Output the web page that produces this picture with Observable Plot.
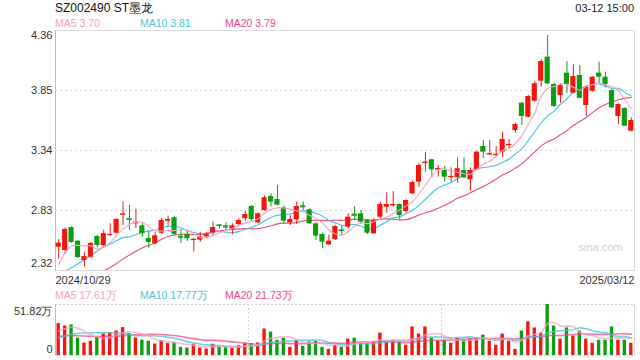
<!DOCTYPE html>
<html><head><meta charset="utf-8">
<script src="https://cdn.jsdelivr.net/npm/d3@7"></script>
<script src="https://cdn.jsdelivr.net/npm/@observablehq/plot@0.6"></script>
<style>
body{margin:0;background:#fff;font-family:"Liberation Sans",Arial,sans-serif;}
#c{position:relative;width:640px;height:360px;overflow:hidden;background:#fff;}
.t{position:absolute;white-space:nowrap;}
#c svg{position:absolute;left:0;}
</style></head><body><div id="c"></div>
<script>
// ---- data ----
const title = "SZ002490 ST墨龙";
const stamp = "03-12 15:00";
const dateLabels = ["2024/10/29", "2025/03/12"];
const maNames = ["MA5", "MA10", "MA20"];
const priceMaLabels = ["3.70", "3.81", "3.79"];
const volMaLabels = ["17.61万", "17.77万", "21.73万"];
const priceTicks = [4.36, 3.85, 3.34, 2.83, 2.32];
const volTicks = [51.82, 0];
const opens = [2.518,2.490,2.685,2.569,2.405,2.433,2.609,2.531,2.621,2.637,2.794,2.760,2.717,2.700,2.592,2.547,2.637,2.739,2.768,2.612,2.626,2.575,2.578,2.606,2.640,2.708,2.700,2.662,2.711,2.760,2.864,2.725,2.830,2.949,2.924,2.853,2.725,2.751,2.870,2.836,2.717,2.626,2.538,2.583,2.665,2.688,2.800,2.802,2.745,2.632,2.773,2.858,2.870,2.881,2.821,2.972,3.071,3.232,3.261,3.176,3.170,3.113,3.108,3.170,3.091,3.176,3.374,3.306,3.300,3.326,3.382,3.510,3.742,3.623,3.759,3.929,4.133,3.901,3.807,3.997,3.827,3.977,3.722,3.844,3.997,3.963,3.850,3.629,3.697,3.504];
const highs = [2.583,2.683,2.691,2.575,2.476,2.558,2.620,2.663,2.717,2.760,2.904,2.875,2.841,2.722,2.652,2.643,2.762,2.782,2.782,2.660,2.660,2.592,2.646,2.640,2.731,2.708,2.725,2.717,2.760,2.821,2.873,2.810,2.955,2.972,3.042,2.870,2.788,2.901,2.901,2.844,2.722,2.637,2.620,2.700,2.694,2.802,2.864,2.830,2.751,2.760,2.901,2.980,2.991,2.887,2.921,3.079,3.227,3.325,3.266,3.210,3.204,3.193,3.278,3.278,3.193,3.334,3.425,3.425,3.374,3.496,3.434,3.572,3.750,3.807,3.929,4.111,4.318,3.912,3.907,4.096,4.068,4.062,3.892,3.969,4.091,4.006,3.856,3.737,3.703,3.618];
const lows = [2.416,2.456,2.552,2.422,2.348,2.424,2.513,2.518,2.609,2.632,2.702,2.660,2.677,2.603,2.504,2.541,2.626,2.697,2.620,2.547,2.567,2.476,2.560,2.589,2.617,2.674,2.660,2.623,2.702,2.739,2.737,2.717,2.822,2.858,2.867,2.717,2.703,2.711,2.830,2.711,2.575,2.504,2.533,2.575,2.612,2.674,2.745,2.711,2.626,2.626,2.759,2.807,2.858,2.751,2.807,2.963,3.028,3.156,3.108,3.113,3.071,3.071,3.062,3.099,2.994,3.170,3.270,3.298,3.283,3.278,3.354,3.487,3.553,3.618,3.750,3.878,3.901,3.708,3.742,3.827,3.822,3.779,3.629,3.836,3.912,3.873,3.697,3.561,3.544,3.499];
const closes = [2.552,2.669,2.558,2.430,2.439,2.550,2.533,2.634,2.626,2.754,2.799,2.745,2.731,2.632,2.558,2.615,2.745,2.754,2.626,2.603,2.589,2.584,2.606,2.626,2.685,2.694,2.690,2.699,2.745,2.796,2.754,2.802,2.938,2.901,2.875,2.739,2.754,2.864,2.862,2.717,2.612,2.561,2.569,2.694,2.660,2.773,2.790,2.731,2.637,2.745,2.881,2.881,2.881,2.787,2.915,3.068,3.213,3.240,3.176,3.185,3.113,3.119,3.185,3.108,3.170,3.326,3.326,3.312,3.306,3.434,3.391,3.561,3.629,3.799,3.907,4.096,3.907,3.714,3.892,3.901,3.969,3.784,3.878,3.963,3.963,3.901,3.703,3.731,3.547,3.595];
const volumes = [32.4,30.0,31.1,17.6,12.7,14.5,19.0,21.8,23.1,24.9,28.3,22.5,17.9,15.5,14.5,11.7,15.2,12.1,13.2,8.3,7.6,11.4,7.6,6.5,11.4,9.0,8.6,7.6,10.0,12.1,12.1,12.7,26.9,23.8,15.5,17.6,8.3,15.2,9.3,13.8,14.5,8.3,6.2,10.4,8.3,16.6,17.6,12.4,12.4,13.8,22.8,14.5,15.5,13.5,10.4,29.0,21.8,29.0,17.6,14.5,15.5,12.4,17.6,15.5,16.6,17.6,20.7,14.5,10.4,21.8,14.5,6.2,24.9,34.2,28.0,22.8,51.82,30.0,16.6,28.0,19.7,24.9,16.6,12.4,15.5,15.5,29.0,15.5,15.5,12.4];
// estimated sessions before the window (for the moving averages at the left edge)
const prevCloses = [2.06,2.04,2.05,2.08,2.06,2.07,2.05,2.06,2.08,2.07,2.05,2.07,2.09,2.12,2.16,2.17,2.27,2.40,2.46];
const prevVolumes = [18,22,25,19,21,24,20,17,23,19,12,10,11,9,12,20,22,24,27];
const dividers = [30, 60];

// ---- derived ----
const RED = "#f2160e", GREEN = "#0b9e10";
const MA_COLORS = ["#f7a2c0", "#3fc6e2", "#ec4b80"];
const n = closes.length, P = prevCloses.length;
const allC = prevCloses.concat(closes), allV = prevVolumes.concat(volumes);
const mean = (arr, i, w) => d3.mean(arr.slice(i + P - w + 1, i + P + 1));
const floorP = priceTicks[4];
const rows = d3.range(n).map(i => ({
  i, open: opens[i], high: highs[i], low: lows[i], close: closes[i], vol: volumes[i],
  up: closes[i] >= opens[i],
  ma5: Math.max(floorP, mean(allC, i, 5)), ma10: Math.max(floorP, mean(allC, i, 10)), ma20: Math.max(floorP, mean(allC, i, 20)),
  v5: mean(allV, i, 5), v10: mean(allV, i, 10), v20: mean(allV, i, 20)
}));
const col = d => d.up ? RED : GREEN;

const W = 640, ML = 55, MR = 6;
const step = (W - ML - MR) / n;
const font = {fontFamily: "Liberation Sans, Arial, sans-serif", fontSize: "11px", color: "#333", background: "transparent", overflow: "visible"};

const price = Plot.plot({
  width: W, height: 290, marginTop: 30, marginBottom: 20, marginLeft: ML, marginRight: MR,
  style: font,
  x: {type: "band", domain: d3.range(n), paddingInner: 0.2, paddingOuter: 0.1, round: false, axis: null},
  y: {domain: [priceTicks[4], priceTicks[0]], axis: null},
  marks: [
    Plot.frame({stroke: "#dcdcdc"}),
    Plot.frame({anchor: "left", stroke: "#bdbdbd"}),
    Plot.gridY(priceTicks.slice(1, 4), {stroke: "#d6d6d6", strokeOpacity: 1, strokeDasharray: "2,3"}),
    Plot.axisY(priceTicks.slice(1, 4), {tickSize: 0, tickPadding: 3, tickFormat: ".2f", fontSize: 11, fill: "#333", label: null}),
    Plot.axisY([priceTicks[0]], {tickSize: 0, tickPadding: 3, tickFormat: ".2f", fontSize: 11, fill: "#333", dy: 5, label: null}),
    Plot.axisY([priceTicks[4]], {tickSize: 0, tickPadding: 3, tickFormat: ".2f", fontSize: 11, fill: "#333", dy: -7, label: null}),
    Plot.text(["sina.com"], {frameAnchor: "bottom-right", dx: -12, dy: -20, fill: "#cfcfcf", fontSize: 11, textAnchor: "end"}),
    Plot.line(rows, {x: "i", y: "ma20", stroke: MA_COLORS[2], strokeWidth: 1.1, curve: "catmull-rom", clip: true}),
    Plot.line(rows, {x: "i", y: "ma10", stroke: MA_COLORS[1], strokeWidth: 1.1, curve: "catmull-rom", clip: true}),
    Plot.ruleX(rows, {x: "i", y1: "low", y2: "high", stroke: col, strokeWidth: 1}),
    Plot.barY(rows, {x: "i", y1: d => Math.min(d.open, d.close), y2: d => Math.max(d.open, d.close), fill: col}),
    Plot.tickY(rows.filter(d => Math.abs(d.open - d.close) < 0.012), {x: "i", y: "close", stroke: col, strokeWidth: 1.2}),
    Plot.line(rows, {x: "i", y: "ma5", stroke: MA_COLORS[0], strokeWidth: 1.1, curve: "catmull-rom", clip: true}),
    Plot.text([dateLabels[0]], {frameAnchor: "bottom-left", textAnchor: "start", lineAnchor: "middle", dy: 10, fontSize: 11, fill: "#333"}),
    Plot.text([dateLabels[1]], {frameAnchor: "bottom-right", textAnchor: "end", lineAnchor: "middle", dy: 10, fontSize: 11, fill: "#333"})
  ]
});
price.style.top = "0px";

const vol = Plot.plot({
  width: W, height: 70, marginTop: 14, marginBottom: 5, marginLeft: ML, marginRight: MR,
  style: font,
  x: {type: "band", domain: d3.range(n), paddingInner: 0.48, paddingOuter: 0.24, round: false, axis: null},
  y: {domain: [0, volTicks[0]], axis: null},
  marks: [
    Plot.gridY(volTicks, {stroke: "#cfcfcf", strokeOpacity: 1, strokeDasharray: "2,2"}),
    Plot.ruleX(dividers, {x: d => d, dx: -step / 2, stroke: "#cfcfcf", strokeDasharray: "2,2"}),
    Plot.frame({anchor: "left", stroke: "#bdbdbd"}),
    Plot.frame({anchor: "right", stroke: "#dcdcdc"}),
    Plot.axisY([volTicks[0]], {tickSize: 0, tickPadding: 3, tickFormat: d => d + "万", fontSize: 11, fill: "#333", dy: 7, label: null}),
    Plot.axisY([volTicks[1]], {tickSize: 0, tickPadding: 3, tickFormat: d => String(d), fontSize: 11, fill: "#333", dy: -6, label: null}),
    Plot.barY(rows, {x: "i", y: "vol", fill: col}),
    Plot.line(rows, {x: "i", y: "v20", stroke: MA_COLORS[2], strokeWidth: 1.6, strokeOpacity: 0.75, curve: "catmull-rom", clip: true}),
    Plot.line(rows, {x: "i", y: "v10", stroke: MA_COLORS[1], strokeWidth: 1.6, strokeOpacity: 0.75, curve: "catmull-rom", clip: true}),
    Plot.line(rows, {x: "i", y: "v5", stroke: MA_COLORS[0], strokeWidth: 1.6, strokeOpacity: 0.75, curve: "catmull-rom", clip: true})
  ]
});
vol.style.top = "290px";

const c = document.getElementById("c");
c.appendChild(price);
c.appendChild(vol);
function addText(txt, css) {
  const d = document.createElement("div");
  d.className = "t"; d.textContent = txt;
  Object.assign(d.style, css);
  c.appendChild(d);
}
addText(title, {left: "55px", top: "1px", fontSize: "12px", lineHeight: "14px", color: "#111"});
addText(stamp, {right: "6px", top: "2px", fontSize: "11px", lineHeight: "13px", color: "#222"});
maNames.forEach((m, k) => {
  addText(m + " " + priceMaLabels[k], {left: (55 + 85 * k) + "px", top: "17px", fontSize: "10.5px", lineHeight: "13px", color: MA_COLORS[k]});
  addText(m + " " + volMaLabels[k], {left: (55 + 85 * k) + "px", top: "289px", fontSize: "10.5px", lineHeight: "13px", color: MA_COLORS[k]});
});
</script></body></html>
